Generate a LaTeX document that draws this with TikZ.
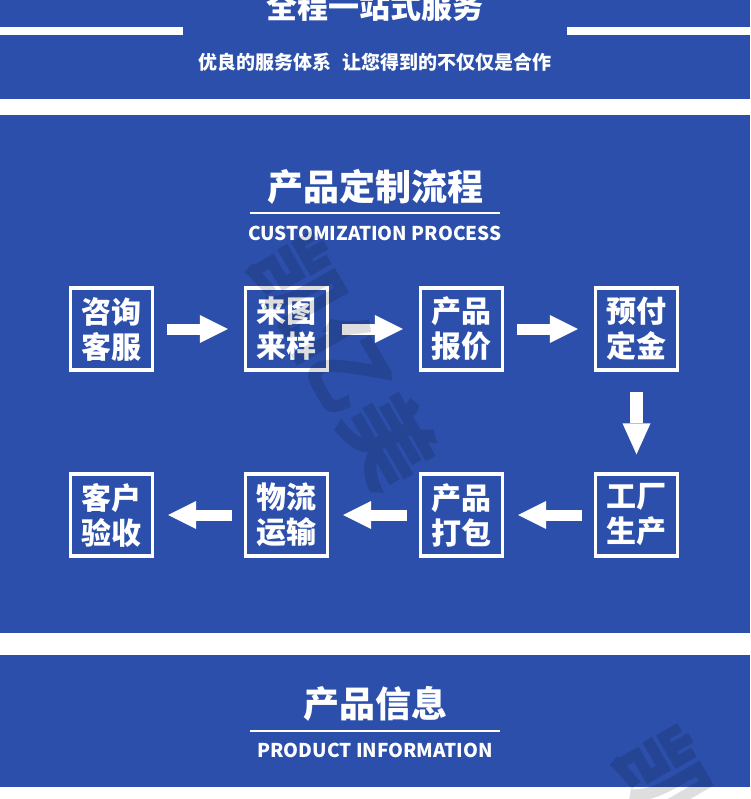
\documentclass[tikz,border=0pt]{standalone}
\usepackage{fontspec}
\setmainfont{Noto Sans CJK SC}
\usetikzlibrary{arrows.meta}
\definecolor{bandblue}{RGB}{43,79,170}

\begin{document}
\begin{tikzpicture}[x=1pt,y=-1pt,
    stepbox/.style={draw=white, line width=3.3pt, minimum size=82pt, inner sep=0pt,
      align=center, text=white, font=\bfseries\fontsize{30}{35}\selectfont},
    flowarrow/.style={draw=white, line width=11pt,
      -{Triangle[width=28pt,length=28pt,line width=0pt]}},
    headline/.style={text=white, font=\bfseries\fontsize{36}{36}\selectfont},
    engline/.style={text=white, font=\bfseries\fontsize{19}{19}\selectfont}]
  \useasboundingbox (0,0) rectangle (750,799);
  \clip (0,0) rectangle (750,799);
  \fill[white] (0,0) rectangle (750,799);

  % bands
  \fill[bandblue] (0,0) rectangle (750,99);
  \fill[bandblue] (0,115) rectangle (750,633);
  \fill[bandblue] (0,655) rectangle (750,787);

  % top band
  \fill[white] (0,27) rectangle (183,35);
  \fill[white] (567,27) rectangle (750,35);
  \node[text=white, font=\bfseries\fontsize{31}{31}\selectfont] (service) at (375,7) {全程一站式服务};
  \node[text=white, font=\bfseries\fontsize{19}{19}\selectfont] (slogan) at (375,62) {优良的服务体系\hspace{0.6em}让您得到的不仅仅是合作};

  % process heading
  \node[headline] (proctitle) at (375,187) {产品定制流程};
  \draw[white, line width=2pt] (250,213) -- (500,213);
  \node[engline] (proceng) at (375,233) {CUSTOMIZATION PROCESS};

  % steps
  \node[stepbox] (consult) at (111.5,329) {咨询\\客服};
  \node[stepbox] (sample) at (286.5,329) {来图\\来样};
  \node[stepbox] (quote) at (461.5,329) {产品\\报价};
  \node[stepbox] (deposit) at (636.5,329) {预付\\定金};
  \node[stepbox] (produce) at (636.5,515) {工厂\\生产};
  \node[stepbox] (pack) at (461.5,515) {产品\\打包};
  \node[stepbox] (ship) at (286.5,515) {物流\\运输};
  \node[stepbox] (accept) at (111.5,515) {客户\\验收};

  \draw[flowarrow, shorten <=13pt, shorten >=16pt] (consult) -- (sample);
  \draw[flowarrow, shorten <=13pt, shorten >=16pt] (sample) -- (quote);
  \draw[flowarrow, shorten <=13pt, shorten >=16pt] (quote) -- (deposit);
  \draw[flowarrow, line width=13pt, shorten <=20pt, shorten >=18pt,
    -{Triangle[width=28pt,length=31pt,line width=0pt]}] (deposit) -- (produce);
  \draw[flowarrow, shorten <=12pt, shorten >=14pt] (produce) -- (pack);
  \draw[flowarrow, shorten <=12pt, shorten >=14pt] (pack) -- (ship);
  \draw[flowarrow, shorten <=12pt, shorten >=14pt] (ship) -- (accept);

  % info heading
  \node[headline] (infotitle) at (375,704) {产品信息};
  \draw[white, line width=2pt] (250,731) -- (500,731);
  \node[engline] (infoeng) at (375,750) {PRODUCT INFORMATION};

  % watermark
  \node[rotate=-60, text=black, opacity=0.13, font=\bfseries\fontsize{90}{90}\selectfont] (mark) at (345,362) {凯亿美};
  \node[rotate=-60, text=black, opacity=0.13, font=\bfseries\fontsize{90}{90}\selectfont] (markb) at (710,855) {凯亿美};
\end{tikzpicture}
\end{document}
